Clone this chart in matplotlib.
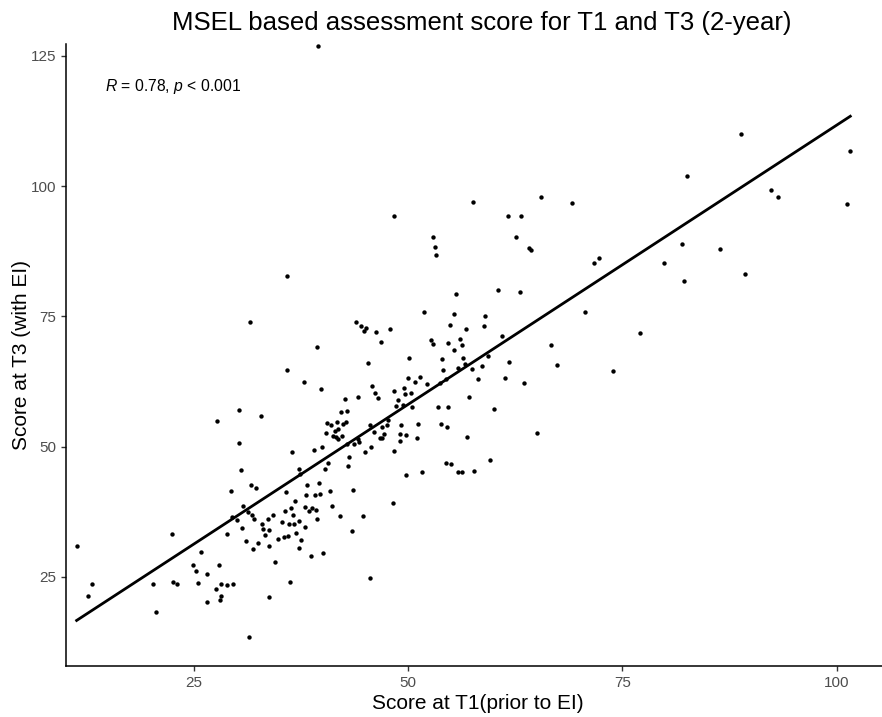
import numpy as np
import matplotlib
matplotlib.use("Agg")
import matplotlib.pyplot as plt

plt.rcParams['font.family'] = ['Liberation Sans', 'DejaVu Sans']
plt.rcParams['mathtext.fontset'] = 'custom'
plt.rcParams['mathtext.it'] = 'Liberation Sans:italic'
plt.rcParams['mathtext.rm'] = 'Liberation Sans'

title = "MSEL based assessment score for T1 and T3 (2-year)"
xlabel = "Score at T1(prior to EI)"
ylabel = "Score at T3 (with EI)"
annot = r"$R$ = 0.78, $p$ < 0.001"
xticks = [25, 50, 75, 100]
yticks = [25, 50, 75, 100, 125]

score_t1 = [
    11.3, 12.6, 13.1, 20.2, 20.6, 22.4, 22.5, 23.0,
    24.9, 25.2, 25.5, 25.8, 26.5, 26.5, 27.6, 27.7, 27.9, 28.0, 28.2, 28.2,
    28.8, 28.9, 29.3, 29.4, 29.6, 30.0, 30.2, 30.3, 30.5, 30.6, 30.7, 31.1,
    31.3, 31.4, 31.5, 31.7, 31.8, 31.9, 32.0, 32.2, 32.5, 32.8, 32.9, 33.1,
    33.3, 33.6, 33.7, 33.8, 33.8, 34.2, 34.5, 34.8,
    35.3, 35.5, 35.6, 35.7, 35.8, 35.8, 36.0, 36.1, 36.2, 36.3, 36.4, 36.6,
    36.7, 36.8, 36.9, 37.2, 37.2, 37.3, 37.4, 37.5, 37.8, 37.9, 38.0, 38.1,
    38.2, 38.4, 38.6, 38.8, 39.0, 39.1, 39.2, 39.3, 39.4, 39.5, 39.6, 39.7,
    39.8, 39.9, 40.0, 40.3, 40.4, 40.5, 40.6, 40.9, 41.0, 41.1, 41.2, 41.5,
    41.6, 41.7, 41.8, 41.8, 42.0, 42.1, 42.3, 42.4, 42.6, 42.7, 42.8, 42.9,
    43.0, 43.1, 43.4, 43.5, 43.7, 43.9, 44.1, 44.1, 44.3, 44.5, 44.7, 44.8,
    44.9, 45.1, 45.3, 45.5, 45.5, 45.6, 45.8, 46.0, 46.1, 46.2, 46.5, 46.7,
    46.8, 46.9, 47.0, 47.2, 47.5, 47.7, 47.9, 48.2, 48.3, 48.4, 48.4, 48.6,
    48.8, 49.0, 49.1, 49.2, 49.4, 49.5, 49.6, 49.7, 49.8, 50.0, 50.1, 50.3,
    50.5, 50.8, 51.0, 51.1, 51.4, 51.6, 51.9, 52.2, 52.7, 52.9, 52.9,
    53.1, 53.2, 53.5, 53.7, 53.8, 53.9, 54.1, 54.4, 54.4, 54.5, 54.6, 54.7,
    54.9, 55.0, 55.3, 55.4, 55.6, 55.8, 55.8, 56.0, 56.3, 56.3, 56.4,
    56.6, 56.8, 56.9, 57.1, 57.4, 57.6, 57.7, 58.2, 58.6, 58.8, 59.0,
    59.3, 59.5, 60.0, 60.5, 60.9, 61.3, 61.6, 61.8, 62.6, 63.0, 63.2,
    63.5, 64.1, 64.3, 65.0, 65.5, 66.7, 67.4, 69.1, 70.6, 71.7, 72.3, 73.9,
    77.0, 79.8, 82.0, 82.2, 82.5, 86.4, 88.9, 89.3, 92.4, 93.2, 101.2, 101.6,
]
score_t3 = [
    31.0, 21.4, 23.7, 23.7, 18.3, 33.3, 24.0, 23.7,
    27.3, 26.2, 23.8, 29.8, 25.6, 20.2, 22.7, 55.0, 27.3, 20.6, 21.4, 23.7,
    33.3, 23.5, 41.5, 36.5, 23.7, 35.9, 57.0, 50.7, 45.5, 34.4, 38.6, 31.9,
    37.5, 13.5, 73.9, 42.7, 36.9, 30.4, 36.1, 42.1, 31.5, 55.9, 35.2, 34.2,
    33.1, 36.1, 21.2, 34.0, 31.0, 36.9, 27.9, 32.3,
    35.6, 32.7, 37.7, 41.3, 64.7, 82.7, 32.9, 35.2, 24.0, 38.2, 49.0, 36.9,
    35.2, 39.6, 33.4, 30.6, 45.7, 35.8, 44.8, 32.0, 62.4, 38.5, 34.6, 40.8,
    42.6, 37.6, 29.1, 38.3, 49.3, 40.7, 37.9, 36.2, 69.2, 126.9, 43.0, 40.9,
    61.0, 50.0, 29.5, 45.7, 52.6, 54.6, 46.9, 41.5, 54.1, 38.6, 52.1, 53.0,
    51.8, 54.7, 53.4, 51.5, 36.6, 56.7, 52.0, 54.3, 59.2, 54.8, 56.8, 50.5,
    46.3, 48.0, 33.9, 41.7, 50.5, 74.0, 59.5, 51.4, 50.9, 73.1, 36.6, 72.3,
    49.0, 72.8, 66.0, 54.2, 24.8, 50.0, 61.7, 52.8, 60.4, 72.1, 59.3, 51.6,
    70.0, 53.8, 51.7, 52.4, 54.2, 55.2, 72.6, 39.1, 49.2, 94.3, 60.6, 57.8,
    58.9, 51.0, 52.5, 54.1, 58.0, 61.2, 60.2, 44.5, 52.3, 63.2, 67.0, 60.4,
    57.6, 62.4, 51.6, 54.3, 63.4, 45.1, 75.9, 62.0, 70.5, 69.8, 90.3,
    88.3, 86.8, 57.6, 62.2, 54.3, 66.9, 64.8, 62.9, 46.8, 53.8, 57.7, 69.9,
    73.3, 46.6, 75.5, 68.6, 79.3, 65.1, 45.1, 70.7, 69.5, 45.1, 67.0,
    65.9, 72.5, 51.8, 59.5, 65.0, 97.0, 45.3, 63.0, 65.4, 73.1, 75.1,
    67.5, 47.5, 57.2, 80.1, 71.3, 63.1, 94.3, 66.3, 90.3, 79.7, 94.3,
    62.3, 88.1, 87.8, 52.6, 97.9, 69.5, 65.7, 96.8, 75.9, 85.3, 86.2, 64.5,
    71.8, 85.3, 88.9, 81.8, 101.9, 88.0, 110.0, 83.2, 99.3, 97.9, 96.6, 106.8,
]

x = np.array(score_t1)
y = np.array(score_t3)

W, H = 882, 717
fig = plt.figure(figsize=(W / 100, H / 100), dpi=100)
left_px, right_px, top_px, bot_px = 66, 882, 44, 666
ax = fig.add_axes([left_px / W, 1 - bot_px / H, (right_px - left_px) / W, (bot_px - top_px) / H])

ax.scatter(x, y, s=10, color='black', linewidths=0, zorder=3, clip_on=False)
slope, intercept = np.polyfit(x, y, 1)
xs = np.array([x.min(), x.max()])
ax.plot(xs, slope * xs + intercept, color='black', lw=2.0, zorder=2)

ax.set_xlim(10.06, 105.3)
ax.set_ylim(7.9, 127.3)
ax.set_xticks(xticks)
ax.set_yticks(yticks)
for s in ['top', 'right']:
    ax.spines[s].set_visible(False)
for s in ['left', 'bottom']:
    ax.spines[s].set_linewidth(1.1)
    ax.spines[s].set_color('black')
ax.tick_params(axis='both', colors='#333333', labelcolor='#4D4D4D', labelsize=11, length=3.5, width=1)

ax.set_xlabel(xlabel, fontsize=15)
ax.xaxis.set_label_coords((478 - left_px) / (right_px - left_px), -0.045)
ax.set_ylabel(ylabel, fontsize=15)
ax.yaxis.set_label_coords((31 - left_px) / (right_px - left_px), 0.5)
fig.suptitle(title, fontsize=18.5, x=482 / W, y=1 - 11 / H, va='top')

ax.text(14.6, 119.2, annot, fontsize=11.3, ha='left', va='center', color='black')

fig.savefig('out.png', dpi=100, facecolor='white')
